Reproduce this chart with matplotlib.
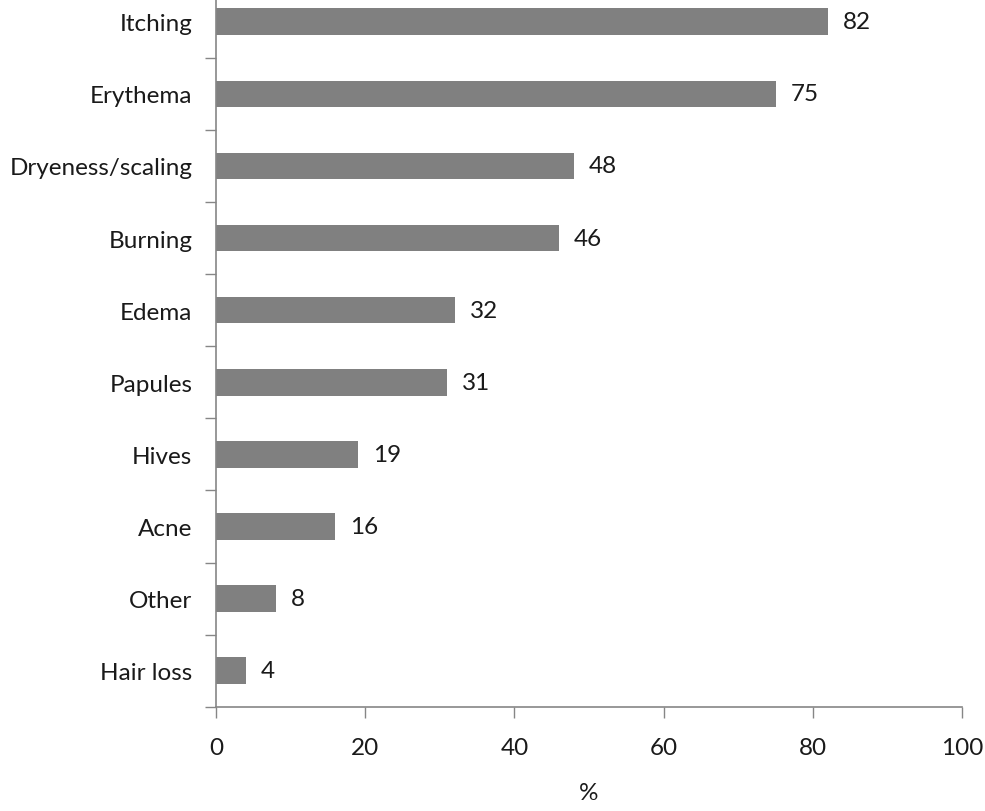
import matplotlib
matplotlib.use("Agg")
import matplotlib.pyplot as plt

categories = ["Itching", "Erythema", "Dryeness/scaling", "Burning", "Edema",
              "Papules", "Hives", "Acne", "Other", "Hair loss"]
values = [82, 75, 48, 46, 32, 31, 19, 16, 8, 4]
xticks = [0, 20, 40, 60, 80, 100]

plt.rcParams['font.family'] = ['Lato', 'DejaVu Sans']
FS = 17.5
TC = "#1a1a1a"

fig = plt.figure(figsize=(9.85, 8.12), dpi=100)
W, H = 985, 812
ax = fig.add_axes([216 / W, (H - 707.7) / H, (962 - 216) / W, 707.7 / H])

n = len(categories)
ypos = list(range(n - 1, -1, -1))
ax.barh(ypos, values, height=0.37, color="#808080", zorder=2)
for y, v in zip(ypos, values):
    ax.text(v + 2, y, str(v), va="center", ha="left", fontsize=FS, color=TC)

ax.set_xlim(0, 100)
ax.set_ylim(-0.5, -0.5 + 707.7 / 72.1)
ax.set_xticks(xticks)
ax.set_xticklabels([str(t) for t in xticks], fontsize=FS, color=TC)
ax.set_yticks(ypos)
ax.set_yticklabels(categories, fontsize=FS, color=TC)
ax.tick_params(axis="y", length=0, pad=17)
ax.set_yticks([i + 0.5 for i in range(-1, n - 1)], minor=True)
ax.tick_params(axis="y", which="minor", length=8, color="#868686", width=1)
ax.tick_params(axis="x", length=8, color="#868686", width=1, pad=14)
for s in ["top", "right"]:
    ax.spines[s].set_visible(False)
for s in ["left", "bottom"]:
    ax.spines[s].set_color("#868686")
    ax.spines[s].set_linewidth(1.2)
ax.set_xlabel("%", fontsize=FS, color=TC, labelpad=17)

fig.savefig("out.png", dpi=100)
